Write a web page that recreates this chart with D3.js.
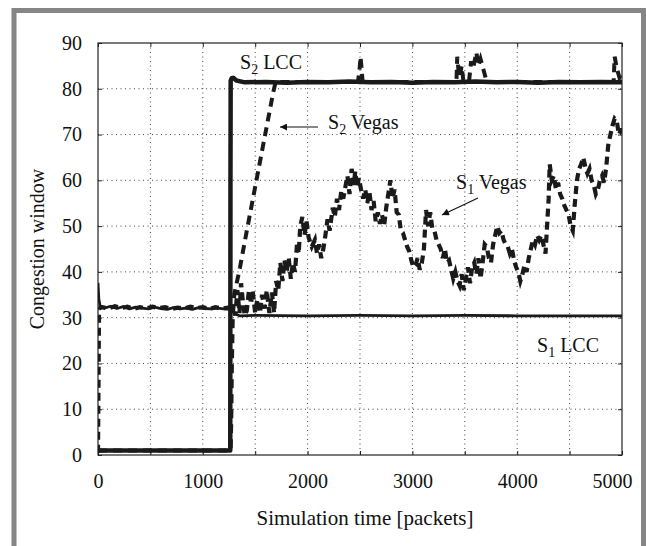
<!DOCTYPE html>
<html>
<head>
<meta charset="utf-8">
<script src="https://cdn.jsdelivr.net/npm/d3@7"></script>
<style>
  body { margin: 0; background: #fff; }
  text { font-family: "Liberation Serif", "Times New Roman", serif; fill: #111; }
</style>
</head>
<body>
<div id="chart"></div>
<script>
// congestion window vs simulation time [packets]
const s1Lcc = [[0,37.6],[8,34],[20,32.6],[60,32.1],[120,32.5],[180,32.0],[240,32.4],[300,31.9],[360,32.3],
  [420,32.1],[480,31.9],[540,32.3],[600,32.0],[660,31.8],[720,32.2],[780,31.9],[840,32.1],[900,31.8],
  [960,32.2],[1020,32.0],[1080,31.9],[1140,32.1],[1200,31.9],[1260,31.8],[1290,31.5],[1310,30.8],
  [1350,30.4],[1500,30.5],[2000,30.4],[2500,30.5],[3000,30.4],[3500,30.5],[4000,30.4],[4500,30.4],[5000,30.4]];

const s2Lcc = [[0,1],[1262,1],[1264,60],[1266,81.8],[1275,82.3],[1290,82.4],[1320,81.8],[1400,81.4],
  [1600,81.5],[1800,81.3],[2000,81.5],[2200,81.4],[2400,81.6],[2600,81.4],[2800,81.5],[3000,81.3],
  [3200,81.5],[3400,81.4],[3600,81.6],[3800,81.4],[4000,81.5],[4200,81.3],[4400,81.5],[4600,81.4],
  [4800,81.5],[5000,81.4]];

const s1Vegas = [[0,0.5],[6,20],[10,32],[40,32.3],[100,32.0],[160,32.5],[220,32.1],[280,32.4],[340,31.9],
  [400,32.3],[460,32.0],[520,32.4],[580,32.1],[640,32.3],[700,31.9],[760,32.2],[820,32.0],[880,32.4],
  [940,32.1],[1000,32.3],[1060,31.9],[1120,32.3],[1180,32.0],[1240,32.2],[1290,32],
  [1310,30.5],[1330,36],[1350,31],[1365,37.5],[1385,33],[1400,30.5],[1420,31.5],[1440,36],[1460,33],
  [1475,36],[1500,31],[1520,34],[1545,31],[1565,35],[1590,32],[1610,36],[1635,31],[1660,35.5],
  [1680,31],[1700,38],[1720,36],[1740,42],[1760,38],[1780,42.5],[1800,40],[1820,43],[1840,38.5],
  [1860,42],[1880,40],[1900,46.5],[1915,44],[1930,50],[1950,52],[1970,48],[1990,51],[2010,47.5],
  [2040,45.5],[2070,47],[2090,44],[2110,46],[2130,43],[2150,45],[2170,48],[2190,51.5],[2210,49],
  [2240,54],[2260,52],[2280,56],[2300,53.5],[2320,57.5],[2340,56],[2360,58.5],[2380,61],[2400,57],
  [2420,62.5],[2440,59],[2455,62],[2470,58.5],[2490,60.5],[2510,58],[2530,56],[2550,58],[2570,55],
  [2590,57.5],[2610,53.5],[2630,55.5],[2650,51],[2670,53],[2690,50.5],[2710,52.5],[2730,50],[2750,54],
  [2770,57],[2790,60],[2810,56],[2830,58],[2850,53],[2870,52.5],[2890,49],[2910,48.5],[2930,47],
  [2950,45.5],[2970,44.5],[2990,42.5],[3010,41],[3030,41.5],[3050,43],[3070,40.5],[3090,42],[3110,45],
  [3130,53.5],[3150,50],[3170,53],[3190,49.5],[3210,49],[3230,47],[3250,46],[3270,45],[3290,43],
  [3310,45],[3330,42],[3350,42.5],[3370,40.5],[3390,38.5],[3410,40],[3430,38],[3450,37],[3470,39.5],
  [3490,36],[3510,38.5],[3530,41],[3550,37.5],[3570,41],[3590,42],[3610,39.5],[3630,43],[3650,38.5],
  [3670,42],[3690,46],[3710,45.5],[3730,43],[3750,42],[3770,46],[3790,48],[3810,50],[3830,48.5],
  [3850,49],[3870,47],[3890,46],[3910,45.5],[3930,44],[3950,45],[3970,42.5],[3990,41],[4010,40],
  [4030,38],[4050,39.5],[4070,41.5],[4090,40],[4110,43],[4130,45],[4150,47],[4170,46],[4190,48],
  [4210,47],[4230,48],[4250,46],[4270,44],[4290,52],[4300,56],[4310,63.5],[4330,60],[4350,61],
  [4370,58],[4390,59.5],[4410,57],[4430,56],[4450,54.5],[4470,53.5],[4490,52.5],[4510,50],[4530,49],
  [4550,55],[4570,60],[4590,62.5],[4610,63.5],[4630,65],[4650,63],[4670,61.5],[4690,62.5],[4710,60],
  [4730,59],[4750,57],[4770,58],[4790,60],[4810,61],[4830,59.5],[4850,63],[4870,68],[4890,70],
  [4910,72],[4930,73.5],[4950,73],[4970,70],[4990,71],[5000,71]];

const s2Vegas = [[0,1],[1266,1],[1272,8],[1278,20],[1286,30],[1300,35],[1355,41],[1420,49],[1470,55],
  [1545,64],[1620,73],[1670,79],[1695,81.5],[2480,81.5],[2495,84],[2505,87],[2515,84.5],[2525,81.5],
  [3420,81.5],[3428,87],[3440,84],[3450,82.5],[3470,85],[3485,82],[3540,81.5],[3560,86],[3580,84.5],
  [3610,88],[3630,85],[3650,86.5],[3680,84],[3710,81.5],[4920,81.5],[4930,87],[4950,84.5],[4975,82.5],
  [4990,83.5],[5000,82.5]];

const xTicks = [0, 500, 1000, 1500, 2000, 2500, 3000, 3500, 4000, 4500, 5000];
const yTicks = [0, 10, 20, 30, 40, 50, 60, 70, 80, 90];

var margin = { top: 43, right: 24, bottom: 91, left: 98 },
  width = 646 - margin.left - margin.right,
  height = 546 - margin.top - margin.bottom;

var root = d3.select("#chart")
  .append("svg")
  .attr("width", 646)
  .attr("height", 546);

// gray frame around the figure
root.append("path")
  .attr("d", "M14,546V10.5H643.5V546")
  .attr("fill", "none")
  .attr("stroke", "#868686")
  .attr("stroke-width", 5);

var svg = root.append("g")
  .attr("transform", `translate(${margin.left},${margin.top})`);

var x = d3.scaleLinear().domain([0, 5000]).range([0, width]);
var y = d3.scaleLinear().domain([0, 90]).range([height, 0]);

// dotted grid
svg.append("g").selectAll("line")
  .data(xTicks.slice(1, -1))
  .enter().append("line")
  .attr("x1", d => x(d)).attr("x2", d => x(d))
  .attr("y1", 0).attr("y2", height)
  .attr("stroke", "#444").attr("stroke-width", 1).attr("stroke-dasharray", "1,3.5");

svg.append("g").selectAll("line")
  .data(yTicks.slice(1, -1))
  .enter().append("line")
  .attr("x1", 0).attr("x2", width)
  .attr("y1", d => y(d)).attr("y2", d => y(d))
  .attr("stroke", "#444").attr("stroke-width", 1).attr("stroke-dasharray", "1,3.5");

// axes (inward ticks)
var xAxis = svg.append("g")
  .attr("transform", "translate(0," + height + ")")
  .call(d3.axisBottom(x).tickValues(xTicks).tickSize(-4).tickPadding(19)
    .tickFormat(d => d % 1000 === 0 ? d : ""));
xAxis.selectAll("text").style("font-size", "20px");
xAxis.selectAll(".tick").filter(d => d === 5000).select("text").attr("x", -10);

var yAxis = svg.append("g")
  .call(d3.axisLeft(y).tickValues(yTicks).tickSize(-4).tickPadding(16));
yAxis.selectAll("text").style("font-size", "20px");

svg.append("g")
  .call(d3.axisTop(x).tickValues(xTicks).tickSize(-4).tickFormat(""));
svg.append("g")
  .attr("transform", "translate(" + width + ",0)")
  .call(d3.axisRight(y).tickValues(yTicks).tickSize(-4).tickFormat(""));

svg.selectAll(".domain").remove();
svg.selectAll(".tick line").attr("stroke", "#222");
svg.selectAll(".tick text").attr("fill", "#111").style("font-family", "Liberation Serif");

svg.append("rect")
  .attr("width", width).attr("height", height)
  .attr("fill", "none").attr("stroke", "#222").attr("stroke-width", 1.2);

// series
svg.append("clipPath").attr("id", "plotclip")
  .append("rect").attr("x", 0).attr("y", -2).attr("width", width).attr("height", height + 2);

var line = d3.line().x(d => x(d[0])).y(d => y(d[1]));
var plot = svg.append("g").attr("clip-path", "url(#plotclip)");

plot.append("path").datum(s1Vegas)
  .attr("d", line).attr("fill", "none").attr("stroke", "#1a1a1a")
  .attr("stroke-width", 4.2).attr("stroke-dasharray", "8,5");

plot.append("path").datum(s2Vegas)
  .attr("d", line).attr("fill", "none").attr("stroke", "#1a1a1a")
  .attr("stroke-width", 4).attr("stroke-dasharray", "9,6");

plot.append("path").datum(s1Lcc)
  .attr("d", line).attr("fill", "none").attr("stroke", "#1a1a1a")
  .attr("stroke-width", 2.8).attr("stroke-linejoin", "round");

plot.append("path").datum(s2Lcc)
  .attr("d", line).attr("fill", "none").attr("stroke", "#1a1a1a")
  .attr("stroke-width", 4.5).attr("stroke-linejoin", "round");

// labels
function label(px, py, sub, rest) {
  var t = root.append("text").attr("x", px).attr("y", py).style("font-size", "20px");
  t.append("tspan").text("S");
  t.append("tspan").attr("dy", 5).style("font-size", "14px").text(sub);
  t.append("tspan").attr("dy", -5).text(" " + rest);
}
label(240, 69, "2", "LCC");
label(328, 129, "2", "Vegas");
label(456, 189, "1", "Vegas");
label(537, 352, "1", "LCC");

root.append("defs").append("marker")
  .attr("id", "arrow").attr("viewBox", "0 0 10 10")
  .attr("refX", 10).attr("refY", 5)
  .attr("markerWidth", 11).attr("markerHeight", 7)
  .attr("markerUnits", "userSpaceOnUse")
  .attr("orient", "auto")
  .append("path").attr("d", "M0,0L10,5L0,10z").attr("fill", "#111");

root.append("line").attr("x1", 318).attr("y1", 127).attr("x2", 280).attr("y2", 127)
  .attr("stroke", "#111").attr("stroke-width", 1.2).attr("marker-end", "url(#arrow)");
root.append("line").attr("x1", 478).attr("y1", 198).attr("x2", 442).attr("y2", 215)
  .attr("stroke", "#111").attr("stroke-width", 1.2).attr("marker-end", "url(#arrow)");

root.append("text")
  .attr("x", 365).attr("y", 525)
  .attr("text-anchor", "middle").style("font-size", "21px")
  .text("Simulation time [packets]");

root.append("text")
  .attr("transform", "translate(44,249) rotate(-90)")
  .attr("text-anchor", "middle").style("font-size", "20px")
  .text("Congestion window");
</script>
</body>
</html>
